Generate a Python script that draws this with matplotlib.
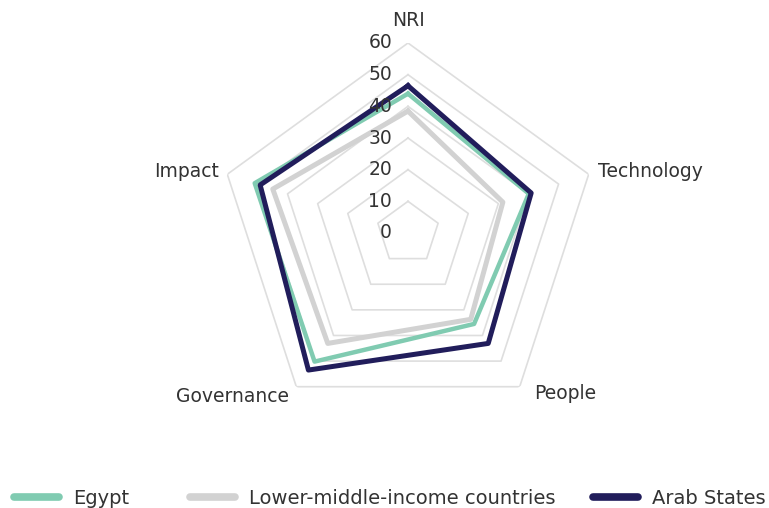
import numpy as np
import matplotlib.pyplot as plt
from matplotlib.transforms import offset_copy

plt.rcParams['font.family'] = ['DejaVu Sans']

# Pillars of the index, clockwise from the top
categories = ["NRI", "Technology", "People", "Governance", "Impact"]
egypt = [44.0, 40.1, 35.5, 50.2, 50.9]
lower_middle = [38.5, 31.5, 33.7, 43.1, 44.9]
arab_states = [46.5, 40.9, 43.1, 53.5, 49.1]
series_names = ["Egypt", "Lower-middle-income countries", "Arab States"]
ring_levels = [10, 20, 30, 40, 50, 60]

colors = ["#80cbb1", "#d2d2d2", "#211d5b"]
widths = [3.2, 3.6, 3.6]

W, H = 769, 508
fig = plt.figure(figsize=(W / 100, H / 100), dpi=100)
cx, cy, R = 408, 233, 190
ax = fig.add_axes([(cx - R) / W, (H - cy - R) / H, 2 * R / W, 2 * R / H],
                  projection="polar")
ax.set_theta_offset(np.pi / 2)
ax.set_theta_direction(-1)
ax.set_ylim(0, 60)
ax.axis("off")

angles = np.linspace(0, 2 * np.pi, len(categories), endpoint=False)
closed = np.append(angles, angles[0])

# pentagon grid rings
for lvl in ring_levels:
    ax.plot(closed, [lvl] * len(closed), color="#dedede", lw=1.2, zorder=1)

# radial scale labels, just left of the top axis
trans = offset_copy(ax.transData, fig=fig, x=-16, y=0, units="dots")
for lvl in [0] + ring_levels:
    ax.text(0, lvl, str(lvl), transform=trans, ha="right", va="center",
            fontsize=13.5, color="#333333", zorder=5)

lines = []
for name, vals, c, lw in zip(series_names, [egypt, lower_middle, arab_states], colors, widths):
    ln, = ax.plot(closed, vals + vals[:1], color=c, lw=lw, label=name, zorder=3)
    lines.append(ln)

# category labels
label_pos = [(0, 67.2, "center"), (angles[1], 63, "left"), (np.deg2rad(142), 64.5, "left"),
             (angles[3], 64, "right"), (angles[4], 62.6, "right")]
for cat, (th, r, ha) in zip(categories, label_pos):
    ax.text(th, r, cat, ha=ha, va="center", fontsize=13.5, color="#333333")

# legend, one entry per series across the bottom
legend_x = [14, 190, 593]
for ln, lx in zip(lines, legend_x):
    leg = fig.legend(handles=[ln], loc="center left", bbox_to_anchor=(lx / W, 1 - 498 / H),
                     frameon=False, fontsize=14, handlelength=2.3, handletextpad=0.72,
                     borderaxespad=0, borderpad=0)
    for h in leg.get_lines():
        h.set_linewidth(5.5)
        h.set_solid_capstyle("round")
    for t in leg.get_texts():
        t.set_color("#333333")

fig.savefig("out.png", dpi=100)
